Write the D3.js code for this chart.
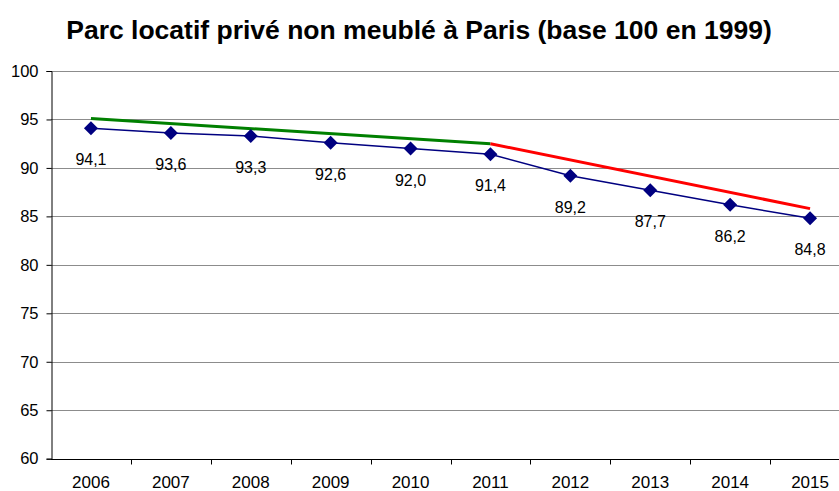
<!DOCTYPE html>
<html>
<head>
<meta charset="utf-8">
<script src="https://d3js.org/d3.v7.min.js"></script>
<style>
  body { margin: 0; background: #fff; }
  svg { font-family: "Liberation Sans", Arial, sans-serif; }
</style>
</head>
<body>
<svg class="target" width="839" height="491"></svg>
<script>

// data
years = ['2006', '2007', '2008', '2009', '2010', '2011', '2012', '2013', '2014', '2015']
values = [94.1, 93.6, 93.3, 92.6, 92.0, 91.4, 89.2, 87.7, 86.2, 84.8]
yTicks = [60, 65, 70, 75, 80, 85, 90, 95, 100]

// trend segments (start/end year and value)
greenTrend = [['2006', 95.1], ['2011', 92.5]]
redTrend = [['2011', 92.5], ['2015', 85.8]]

margin = ({ top: 71, left: 51, right: -11, bottom: 32 })
width = 839
height = 491

svg = d3.select('.target')

x = d3.scaleBand()
    .domain(years)
    .range([margin.left, width - margin.right])

y = d3.scaleLinear()
    .domain([60, 100])
    .range([height - margin.bottom - 0.3, margin.top])

cx = d => x(d) + x.bandwidth() / 2

// title
svg.append('text')
    .attr('x', 419)
    .attr('y', 38.5)
    .attr('text-anchor', 'middle')
    .style('font-size', '26.5px')
    .style('font-weight', 'bold')
    .text('Parc locatif privé non meublé à Paris (base 100 en 1999)')

// gridlines
svg.append('g')
  .selectAll('line')
  .data(yTicks.filter(t => t > 60))
  .join('line')
    .attr('x1', margin.left)
    .attr('x2', width)
    .attr('y1', d => Math.round(y(d)) + 0.5)
    .attr('y2', d => Math.round(y(d)) + 0.5)
    .attr('stroke', '#8c8c8c')
    .attr('stroke-width', 1)

// y axis
yAxis = svg.append('g')
    .attr('transform', `translate(${margin.left + 0.5},0)`)
    .call(d3.axisLeft(y).tickValues(yTicks).tickSize(5).tickPadding(8))
yAxis.select('.domain').attr('stroke', '#000')
yAxis.selectAll('.tick line').attr('stroke', '#000')
yAxis.selectAll('text')
    .style('font-size', '16.5px')
    .style('font-family', '"Liberation Sans", Arial, sans-serif')
    .attr('fill', '#000')

// x axis (ticks between categories)
xAxisY = Math.round(y(60)) + 0.5
svg.append('line')
    .attr('x1', margin.left)
    .attr('x2', width)
    .attr('y1', xAxisY)
    .attr('y2', xAxisY)
    .attr('stroke', '#000')

svg.append('g')
  .selectAll('line')
  .data(years.slice(1))
  .join('line')
    .attr('x1', d => Math.round(x(d)) + 0.5)
    .attr('x2', d => Math.round(x(d)) + 0.5)
    .attr('y1', xAxisY)
    .attr('y2', xAxisY + 5)
    .attr('stroke', '#000')

svg.append('g')
  .selectAll('text')
  .data(years)
  .join('text')
    .attr('x', d => cx(d))
    .attr('y', 488)
    .attr('text-anchor', 'middle')
    .style('font-size', '17px')
    .text(d => d)

// trend lines
trendLine = d3.line()
    .x(d => cx(d[0]))
    .y(d => y(d[1]))

svg.append('path')
    .datum(greenTrend)
    .attr('d', trendLine)
    .attr('fill', 'none')
    .attr('stroke', '#008000')
    .attr('stroke-width', 3)

svg.append('path')
    .datum(redTrend)
    .attr('d', trendLine)
    .attr('fill', 'none')
    .attr('stroke', '#ff0000')
    .attr('stroke-width', 3)

// data line
points = years.map((d, i) => [d, values[i]])

svg.append('path')
    .datum(points)
    .attr('d', trendLine)
    .attr('fill', 'none')
    .attr('stroke', '#000080')
    .attr('stroke-width', 1.5)

// diamond markers
svg.append('g')
  .selectAll('path')
  .data(points)
  .join('path')
    .attr('transform', d => `translate(${cx(d[0])},${y(d[1])})`)
    .attr('d', 'M0,-7L7,0L0,7L-7,0Z')
    .attr('fill', '#000080')

// value labels
svg.append('g')
  .selectAll('text')
  .data(points)
  .join('text')
    .attr('x', d => cx(d[0]))
    .attr('y', d => y(d[1]) + 37)
    .attr('text-anchor', 'middle')
    .style('font-size', '16px')
    .text(d => d3.format('.1f')(d[1]).replace('.', ','))

</script>
</body>
</html>
